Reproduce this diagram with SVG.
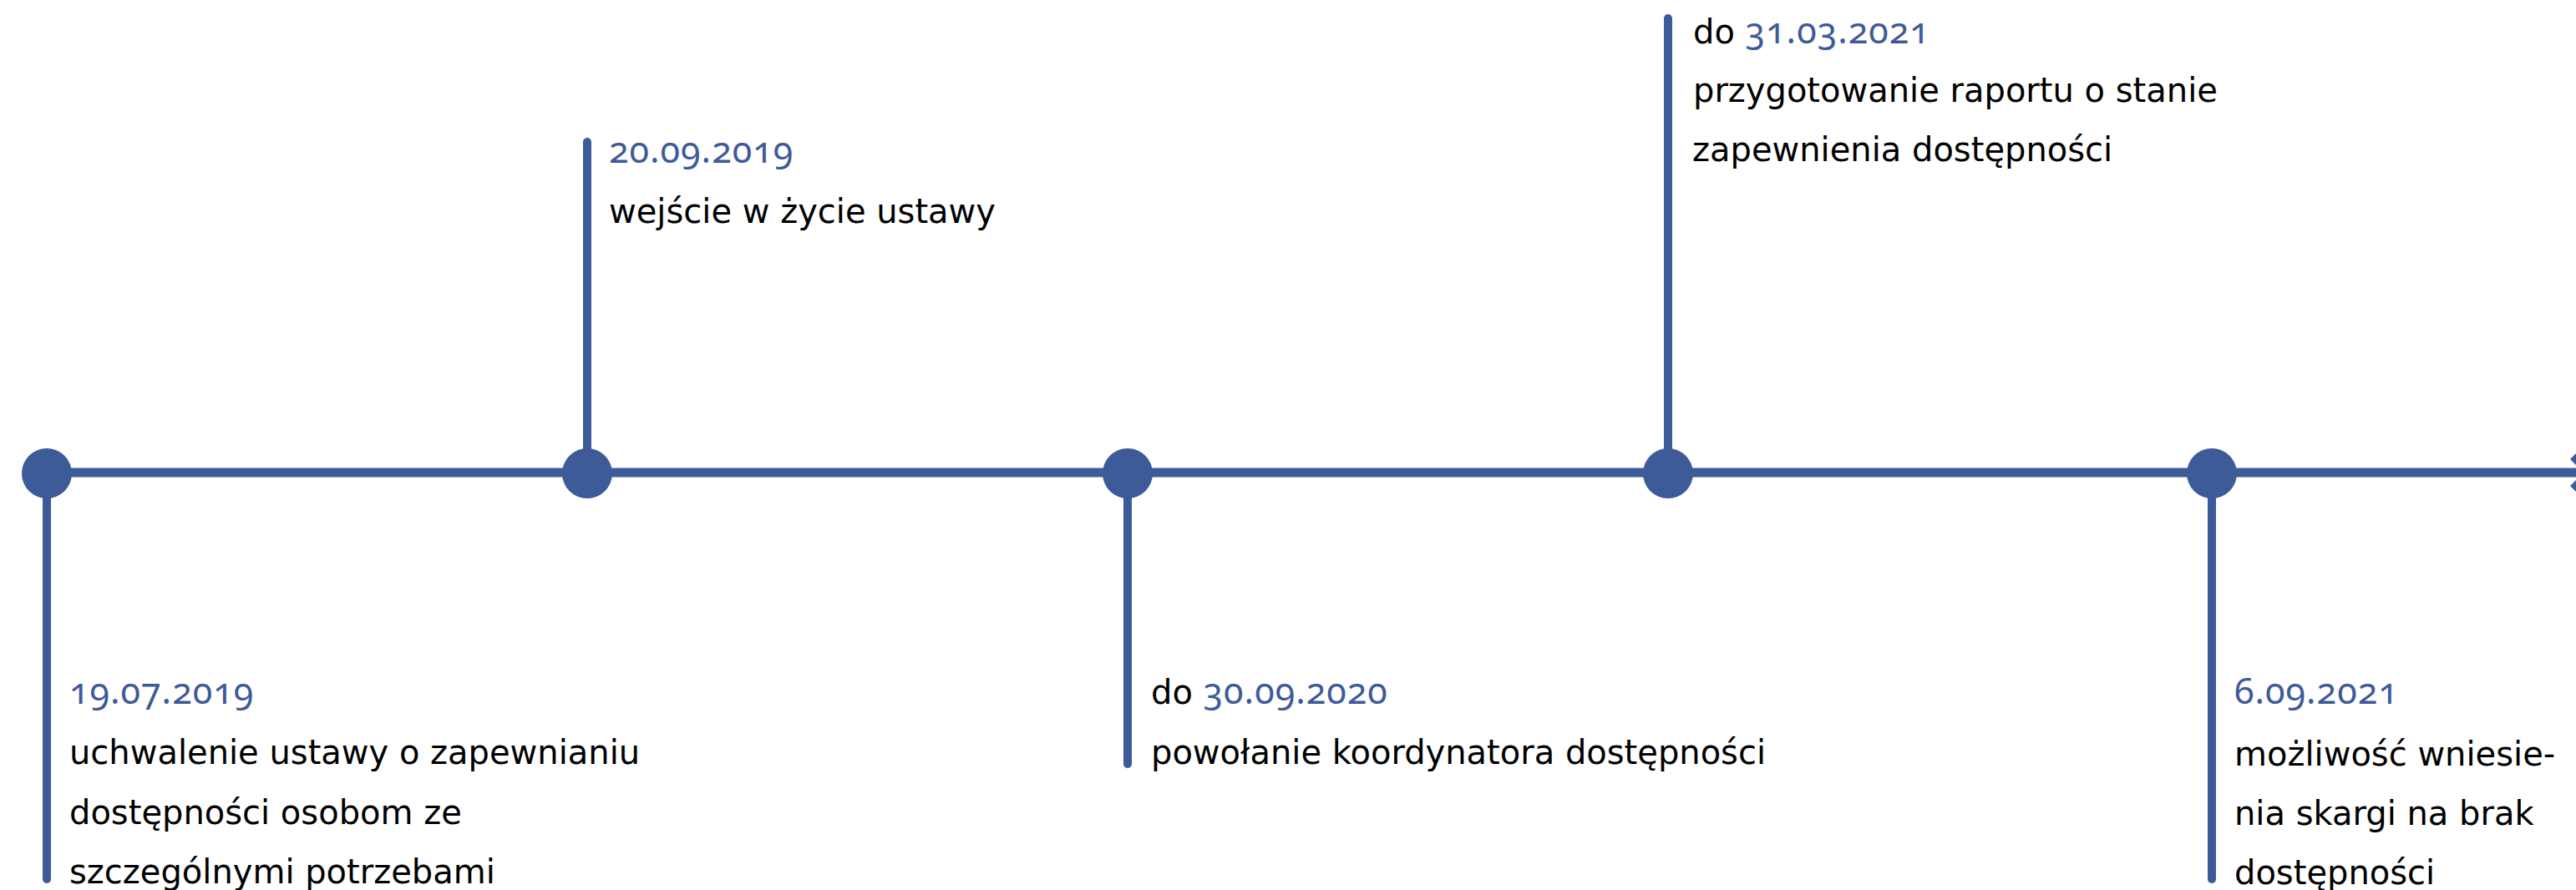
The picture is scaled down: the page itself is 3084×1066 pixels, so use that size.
<svg xmlns="http://www.w3.org/2000/svg" width="3084" height="1066" viewBox="0 0 3084 1066">
<style>
.ln{stroke:#3D5A99;stroke-linecap:round;fill:none}
.dot{fill:#3D5A99}
.t{font-family:"DejaVu Sans","Liberation Sans",sans-serif;font-size:40px;fill:#000}
.d{font-family:"Noto Sans","Open Sans",sans-serif;font-size:43px;letter-spacing:1px;fill:#3D5A99;font-variant-numeric:oldstyle-nums;font-feature-settings:"onum" 1}
</style>
<rect width="3084" height="1066" fill="#ffffff"/>
<g id="connectors">
<line class="ln" x1="56" y1="566" x2="3100" y2="566" stroke-width="11" stroke-linecap="butt"/>
<line class="ln" x1="56" y1="566" x2="56" y2="1053" stroke-width="10"/>
<line class="ln" x1="703" y1="170" x2="703" y2="566" stroke-width="10"/>
<line class="ln" x1="1350" y1="566" x2="1350" y2="915" stroke-width="10"/>
<line class="ln" x1="1997" y1="22" x2="1997" y2="566" stroke-width="10"/>
<line class="ln" x1="2648" y1="566" x2="2648" y2="1053" stroke-width="10"/>
<polygon class="dot" points="3077,550 3084,543 3084,557"/>
<polygon class="dot" points="3077,582 3084,575 3084,589"/>
</g>
<g id="node1">
<circle class="dot" cx="56" cy="567" r="30"/>
<text class="d" x="83" y="843">19.07.2019</text>
<text class="t" x="83" y="915">uchwalenie ustawy o zapewnianiu</text>
<text class="t" x="83" y="987">dostępności osobom ze</text>
<text class="t" x="83" y="1058">szczególnymi potrzebami</text>
</g>
<g id="node2">
<circle class="dot" cx="703" cy="567" r="30"/>
<text class="d" x="729" y="195">20.09.2019</text>
<text class="t" x="729" y="267">wejście w życie ustawy</text>
</g>
<g id="node3">
<circle class="dot" cx="1350" cy="567" r="30"/>
<text class="t" x="1378" y="843">do <tspan class="d">30.09.2020</tspan></text>
<text class="t" x="1378" y="915">powołanie koordynatora dostępności</text>
</g>
<g id="node4">
<circle class="dot" cx="1997" cy="567" r="30"/>
<text class="t" x="2027" y="52">do <tspan class="d">31.03.2021</tspan></text>
<text class="t" x="2027" y="122">przygotowanie raportu o stanie</text>
<text class="t" x="2026" y="193">zapewnienia dostępności</text>
</g>
<g id="node5">
<circle class="dot" cx="2648" cy="567" r="30"/>
<text class="d" x="2675" y="843">6.09.2021</text>
<text class="t" x="2675" y="917">możliwość wniesie-</text>
<text class="t" x="2675" y="988">nia skargi na brak</text>
<text class="t" x="2675" y="1059">dostępności</text>
</g>
</svg>
